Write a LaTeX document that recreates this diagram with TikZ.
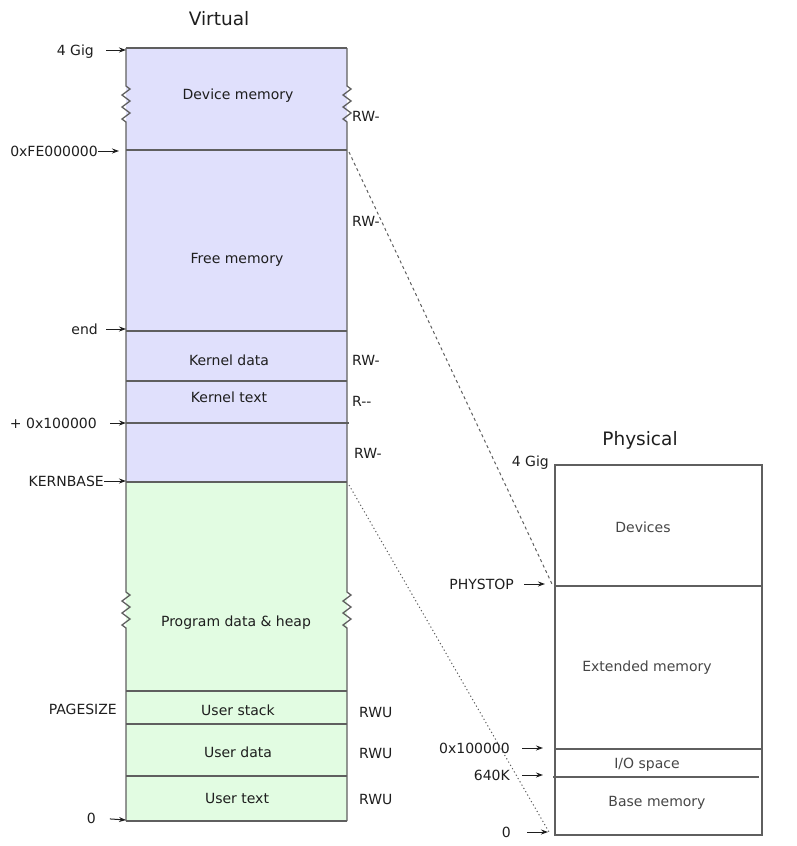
\documentclass[tikz,border=0pt]{standalone}
\usepackage{fontspec}
\setmainfont{DejaVu Sans}
\usetikzlibrary{arrows.meta}
\definecolor{kfill}{RGB}{224,224,252}
\definecolor{ufill}{RGB}{226,252,226}
\definecolor{edgec}{RGB}{95,95,95}
\definecolor{txt}{RGB}{30,30,30}
\definecolor{ptxt}{RGB}{70,70,70}
\begin{document}
\begin{tikzpicture}[x=1pt,y=-1pt,
  edge/.style={draw=edgec,line width=1.3pt},
  lbl/.style={inner sep=0pt,text height=10.2pt,text depth=0pt,font=\fontsize{14}{16}\selectfont,text=txt},
  plbl/.style={lbl,text=ptxt},
  title/.style={inner sep=0pt,text height=13.5pt,text depth=0pt,font=\fontsize{18.5}{22}\selectfont,text=txt},
  arr/.style={-{Stealth[length=7pt,width=5pt]},line width=1pt,draw=txt},
  zig/.style={insert path={-- ++(4,3) -- ++(-8,6) -- ++(8,6) -- ++(-8,6) -- ++(8,6) -- ++(-8,6) -- ++(4,3)}},
  map/.style={draw=edgec,line width=1pt}
]
\useasboundingbox (0,0) rectangle (796,846);

% ---------------- virtual address space ----------------
\fill[kfill] (126,48) rectangle (347,482);
\fill[ufill] (126,482) rectangle (347,821);
\draw[edge] (126,48) -- (126,86) [zig] -- (126,592) [zig] -- (126,821);
\draw[edge] (347,48) -- (347,86) [zig] -- (347,592) [zig] -- (347,821);
\foreach \y in {48,150,331,381,482,691,724,776,821}
  \draw[edge] (126,\y) -- (347,\y);
\draw[edge] (126,423) -- (349,423);

\node[title] (vtitle) at (219,19) {Virtual};

\node[lbl] (devmem) at (238,94) {Device memory};
\node[lbl] (freemem) at (237,258) {Free memory};
\node[lbl] (kdata) at (229,360) {Kernel data};
\node[lbl] (ktext) at (229,397) {Kernel text};
\node[lbl] (heap) at (236,621) {Program data \& heap};
\node[lbl] (ustack) at (238,710) {User stack};
\node[lbl] (udata) at (238,752) {User data};
\node[lbl] (utext) at (237,798) {User text};

% permissions
\node[lbl,anchor=west] (p1) at (352,116) {RW-};
\node[lbl,anchor=west] (p2) at (352,221) {RW-};
\node[lbl,anchor=west] (p3) at (352,360) {RW-};
\node[lbl,anchor=west] (p4) at (352,401) {R-{}-};
\node[lbl,anchor=west] (p5) at (354,453) {RW-};
\node[lbl,anchor=west] (p6) at (359,712) {RWU};
\node[lbl,anchor=west] (p7) at (359,753) {RWU};
\node[lbl,anchor=west] (p8) at (359,799) {RWU};

% address marks
\node[lbl,anchor=east] (v4g) at (94,50) {4 Gig};
\node[lbl,anchor=east] (vfe) at (98,151) {0xFE000000};
\node[lbl,anchor=east] (vend) at (98,329) {end};
\node[lbl,anchor=east] (vmeg) at (97,423) {+ 0x100000};
\node[lbl,anchor=east] (vkb) at (104,481) {KERNBASE};
\node[lbl,anchor=east] (vpg) at (117,709) {PAGESIZE};
\node[lbl,anchor=east] (vzero) at (96,818) {0};

\coordinate (t4g) at (126,50);
\coordinate (tfe) at (119,151);
\coordinate (tend) at (126,329);
\coordinate (tmeg) at (126,423);
\coordinate (tkb) at (126,481);
\coordinate (tzero) at (126,820);

\draw[arr,shorten <=12pt] (v4g.east) -- (t4g);
\draw[arr] (vfe.east) -- (tfe);
\draw[arr,shorten <=8pt] (vend.east) -- (tend);
\draw[arr,shorten <=13pt] (vmeg.east) -- (tmeg);
\draw[arr] (vkb.east) -- (tkb);
\draw[arr,shorten <=14pt] (vzero.east) -- (tzero);

% ---------------- physical memory ----------------
\node[title] (ptitle) at (640,439) {Physical};
\draw[edge] (555,465) rectangle (762,835);
\draw[edge] (555,586) -- (762,586);
\draw[edge] (555,749) -- (762,749);
\draw[edge] (553,777) -- (759,777);

\node[plbl] (devices) at (643,527) {Devices};
\node[plbl] (extmem) at (647,666) {Extended memory};
\node[plbl] (iospace) at (647,763) {I/O space};
\node[plbl] (basemem) at (657,801) {Base memory};

\node[lbl,anchor=east] (p4g) at (549,461) {4 Gig};
\node[lbl,anchor=east] (pstop) at (514,584) {PHYSTOP};
\node[lbl,anchor=east] (pmeg) at (510,748) {0x100000};
\node[lbl,anchor=east] (p640) at (510,775) {640K};
\node[lbl,anchor=east] (pzero) at (511,832) {0};

\coordinate (qstop) at (545,584);
\coordinate (qmeg) at (543,748);
\coordinate (q640) at (543,775);
\coordinate (qzero) at (548,832);

\draw[arr,shorten <=10pt] (pstop.east) -- (qstop);
\draw[arr,shorten <=12pt] (pmeg.east) -- (qmeg);
\draw[arr,shorten <=12pt] (p640.east) -- (q640);
\draw[arr,shorten <=16pt] (pzero.east) -- (qzero);

% ---------------- mapping lines ----------------
\coordinate (mtop) at (349,152);
\coordinate (mtopp) at (552,584);
\coordinate (mbot) at (349,485);
\coordinate (mbotp) at (549,832);
\draw[map,dash pattern=on 3pt off 3pt] (mtop) -- (mtopp);
\draw[map,dash pattern=on 1.2pt off 2.6pt] (mbot) -- (mbotp);
\end{tikzpicture}
\end{document}
